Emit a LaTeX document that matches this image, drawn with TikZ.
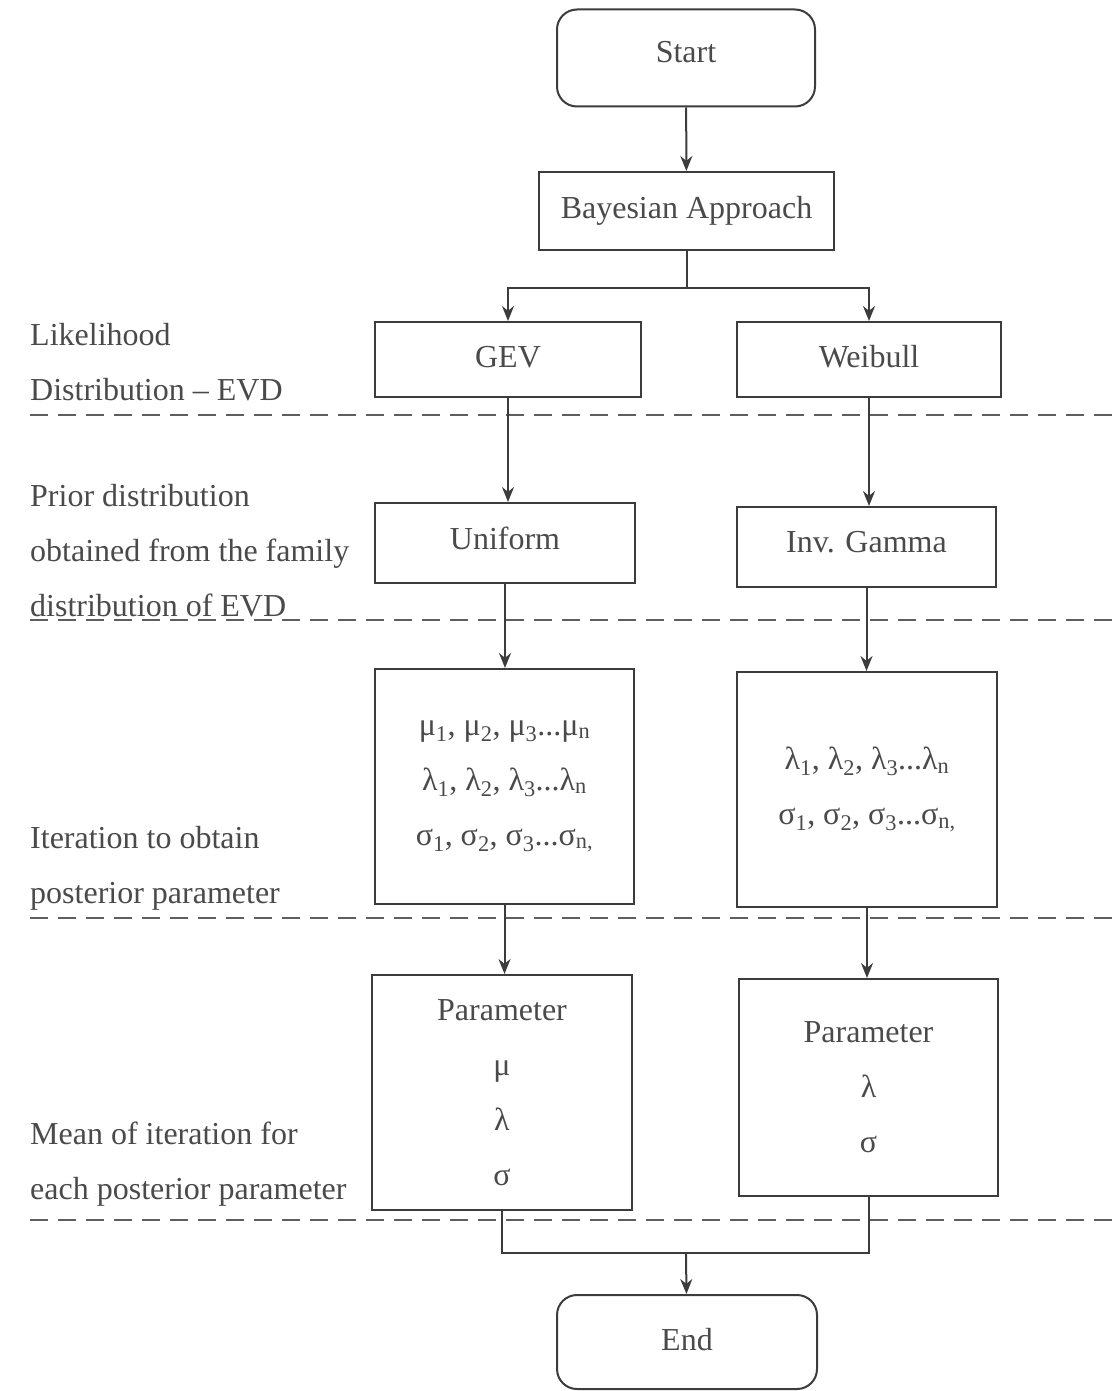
\documentclass[tikz,border=0pt]{standalone}
\usepackage{fontspec}
\setmainfont{Liberation Serif}
\usetikzlibrary{arrows.meta}
\definecolor{linegray}{HTML}{3C3C3C}
\definecolor{textgray}{HTML}{4A4A4A}
\definecolor{dashgray}{HTML}{5E5E5E}
\tikzset{
  box/.style={draw=linegray,text=textgray,line width=2pt,inner sep=0pt,
    align=center,font=\fontsize{32}{55}\selectfont},
  term/.style={box,rounded corners=20pt},
  note/.style={anchor=west,inner sep=0pt,text=textgray,align=left,
    font=\fontsize{32}{55}\selectfont},
  sep/.style={draw=dashgray,line width=2pt,dash pattern=on 18pt off 10pt},
  link/.style={draw=linegray,line width=2pt}
}

\begin{document}
\begin{tikzpicture}[x=1pt,y=-1pt,>={Stealth[length=15pt,width=12pt]}]
\useasboundingbox (0,0) rectangle (1113,1391);
% flow boxes
\node[term,minimum width=258pt,minimum height=97pt] (start) at (686,58) {\raisebox{12pt}{Start}};
\node[box,minimum width=295pt,minimum height=78pt] (bayes) at (686.5,211) {\raisebox{6pt}{Bayesian Approach}};
\node[box,minimum width=266pt,minimum height=75pt] (gev) at (508,359.5) {\raisebox{6pt}{GEV}};
\node[box,minimum width=264pt,minimum height=75pt] (weib) at (869,359.5) {\raisebox{6pt}{Weibull}};
\node[box,minimum width=260pt,minimum height=80pt] (unif) at (505,543) {\raisebox{10pt}{Uniform}};
\node[box,minimum width=259pt,minimum height=80pt] (invg) at (866.5,547) {\raisebox{10pt}{Inv. Gamma}};
\node[box,minimum width=259pt,minimum height=235pt] (iterl) at (504.5,786.5)
  {μ\textsubscript{1}, μ\textsubscript{2}, μ\textsubscript{3}...μ\textsubscript{n}\\
   λ\textsubscript{1}, λ\textsubscript{2}, λ\textsubscript{3}...λ\textsubscript{n}\\
   σ\textsubscript{1}, σ\textsubscript{2}, σ\textsubscript{3}...σ\textsubscript{n,}};
\node[box,minimum width=260pt,minimum height=235pt] (iterr) at (867,789.5)
  {λ\textsubscript{1}, λ\textsubscript{2}, λ\textsubscript{3}...λ\textsubscript{n}\\
   σ\textsubscript{1}, σ\textsubscript{2}, σ\textsubscript{3}...σ\textsubscript{n,}};
\node[box,minimum width=260pt,minimum height=235pt] (parl) at (502,1092.5)
  {Parameter\\μ\\λ\\σ};
\node[box,minimum width=259pt,minimum height=217pt] (parr) at (868.5,1087.5)
  {Parameter\\λ\\σ};
\node[term,minimum width=260pt,minimum height=94pt] (end) at (687,1342) {\raisebox{6pt}{End}};
% stage labels
\node[note] (lik) at (30,362) {Likelihood\\Distribution -- EVD};
\node[note] (prior) at (30,551) {Prior distribution\\obtained from the family\\distribution of EVD};
\node[note] (iter) at (30,868) {Iteration to obtain\\posterior parameter};
\node[note] (mean) at (30,1164) {Mean of iteration for\\each posterior parameter};
% stage separators
\foreach \yy in {415,620,918,1220}
  \draw[sep] (30,\yy) -- (1113,\yy);
% connectors
\draw[link,->] (start) -- (bayes);
\draw[link] (bayes.south) -- ++(0,37) coordinate (split);
\draw[link,->] (split) -| (gev.north);
\draw[link,->] (split) -| (weib.north);
\draw[link,->] (gev.south) -- (gev.south |- unif.north);
\draw[link,->] (weib.south) -- (weib.south |- invg.north);
\draw[link,->] (unif.south) -- (unif.south |- iterl.north);
\draw[link,->] (invg.south) -- (invg.south |- iterr.north);
\draw[link,->] (iterl.south) -- (iterl.south |- parl.north);
\draw[link,->] (iterr.south) -- (iterr.south |- parr.north);
\coordinate (join) at (686,1253);
\draw[link] (parl.south) -- (parl.south |- join) -- (parr.south |- join) -- (parr.south);
\draw[link,->] (join) -- (end);
\end{tikzpicture}
\end{document}
